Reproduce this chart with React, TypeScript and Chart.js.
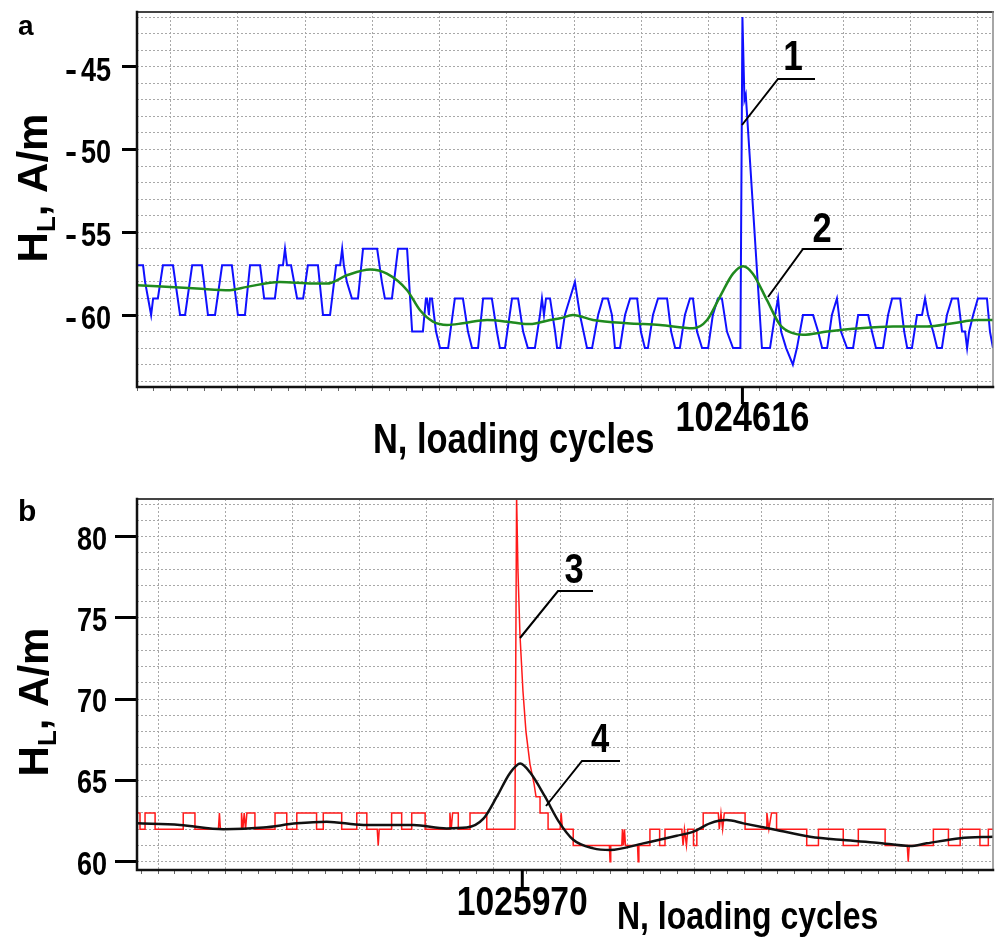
import React, { useEffect, useRef } from "react";
import { Chart, registerables } from "chart.js";

Chart.register(...registerables);

const W = 995;
const H = 472;

// ---------------- Panel a ----------------
const N_MIN_A = 1024436;
const N_MAX_A = 1024690.5;
const N_MARK_A = 1024616;
const GRID_START_A = 1024446;
const H_MIN_A = -64.35;
const H_MAX_A = -41.69;
const H_TICKS_A = [-45, -50, -55, -60];

// curve 1 (raw signal): cycle offset from N_MIN_A, field value
const blueA_dN = [0, 1.8, 2.4, 3.3, 4.2, 4.8, 6.2, 7.7, 10.7, 12.8, 14.3, 16.4, 19.3, 21.1, 23.2, 25.3, 28.2, 30.0, 32.1, 33.6, 36.6, 37.8, 41.0, 42.2, 43.4, 44.0, 44.6, 45.8, 47.6, 49.4, 50.8, 53.8, 55.3, 57.4, 59.2, 60.4, 61.0, 61.5, 62.4, 63.9, 65.7, 67.2, 71.4, 72.8, 73.7, 75.8, 77.6, 80.3, 80.9, 81.8, 85.0, 85.9, 86.2, 86.8, 87.1, 87.7, 88.9, 90.1, 92.5, 94.5, 96.9, 98.4, 99.6, 101.4, 102.9, 105.5, 107.0, 107.9, 109.4, 111.5, 113.3, 114.8, 116.2, 118.3, 119.8, 120.4, 121.0, 121.6, 122.8, 124.3, 124.9, 125.8, 127.2, 128.7, 130.2, 131.7, 133.8, 135.3, 137.1, 138.5, 140.0, 141.2, 142.1, 143.6, 145.1, 146.6, 148.7, 149.8, 151.0, 151.9, 153.4, 154.9, 157.6, 158.8, 160.0, 161.4, 162.9, 164.4, 165.3, 166.5, 168.0, 169.8, 171.2, 172.7, 173.9, 175.4, 177.2, 179.4, 180.0, 180.6, 181.0, 185.8, 188.2, 189.7, 190.6, 191.5, 193.0, 195.0, 196.2, 198.0, 201.0, 202.5, 203.7, 205.2, 206.6, 208.1, 209.3, 211.1, 212.9, 214.4, 217.4, 218.5, 219.7, 221.8, 223.3, 224.5, 226.9, 228.1, 229.0, 230.4, 231.9, 233.4, 234.3, 235.2, 236.7, 237.9, 239.3, 240.8, 242.3, 244.1, 245.3, 246.2, 246.8, 247.4, 248.6, 250.0, 252.7, 253.6, 254.5];
const blueA_H = [-57, -57, -58, -59, -60, -59, -59, -57, -57, -60, -60, -57, -57, -60, -60, -57, -57, -60, -60, -57, -57, -59, -59, -57, -57, -56, -57, -57, -59, -59, -57, -57, -60, -60, -57, -57, -56, -57, -58, -59, -59, -56, -56, -58, -59, -59, -56, -56, -58, -61, -61, -59, -59, -60, -59, -59, -61, -62, -62, -59, -59, -61, -62, -62, -59, -59, -61, -62, -62, -59, -59, -61, -62, -62, -60, -59, -60, -59, -59, -61, -62, -62, -60, -59, -58, -60, -62, -62, -60, -59, -59, -60, -62, -62, -60, -59, -59, -61, -62, -62, -60, -59, -59, -61, -62, -62, -60, -59, -59, -61, -62, -62, -60, -59, -59, -61, -62, -62, -42, -47, -46.7, -62, -62, -60, -59, -61, -62, -63, -62, -60, -60, -61, -62, -62, -60, -59, -61, -62, -62, -60, -60, -61, -62, -62, -60, -59, -59, -61, -62, -62, -60, -60, -59, -60, -61, -62, -62, -60, -59, -59, -61, -61, -62, -61, -60, -59, -59, -61, -62];

// curve 2 (smoothed)
const greenA_dN = [0, 17.8, 27.6, 32.7, 42.5, 52.3, 56.5, 62.4, 69.3, 74.3, 80.3, 84.1, 88.0, 92.2, 96.9, 104.1, 111.8, 116.8, 122.8, 125.8, 129.6, 135.6, 145.7, 155.5, 165.3, 169.5, 173.3, 177.2, 180.2, 183.1, 187.3, 191.2, 195.0, 198.0, 205.2, 215.0, 224.8, 234.9, 242.6, 249.7, 254.5];
const greenA_H = [-58.2, -58.4, -58.5, -58.3, -58.0, -58.1, -58.1, -57.6, -57.25, -57.5, -58.5, -59.7, -60.4, -60.6, -60.5, -60.3, -60.45, -60.55, -60.3, -60.2, -60.0, -60.3, -60.5, -60.6, -60.8, -60.3, -58.9, -57.5, -57.05, -57.5, -59.1, -60.6, -61.1, -61.2, -61.0, -60.8, -60.7, -60.7, -60.5, -60.3, -60.3];

// ---------------- Panel b ----------------
const N_MIN_B = 1025855;
const N_MAX_B = 1026110.5;
const N_MARK_B = 1025970;
const GRID_START_B = 1025861.3;
const H_MIN_B = 59.49;
const H_MAX_B = 82.32;
const H_TICKS_B = [80, 75, 70, 65, 60];

// curve 3 (raw signal)
const redB_dN = [0, 0.9, 0.9, 2.4, 2.4, 5.4, 5.4, 13.8, 13.8, 17.3, 17.3, 24.3, 24.6, 24.9, 31.2, 31.2, 31.6, 32.0, 32.4, 32.8, 35.2, 35.2, 41.2, 41.2, 44.7, 44.7, 47.7, 47.7, 53.6, 53.6, 55.6, 55.6, 61.1, 61.1, 65.6, 65.6, 68.6, 68.6, 71.7, 72.0, 72.3, 76.0, 76.0, 79.0, 79.0, 82.0, 82.0, 86.0, 86.0, 93.4, 93.4, 93.8, 94.2, 95.9, 95.9, 99.4, 99.4, 104.4, 104.4, 112.8, 113.3, 113.7, 114.3, 115.2, 116.1, 117.3, 118.5, 119.1, 120.3, 120.3, 122.7, 122.7, 126.3, 126.6, 127.0, 130.2, 130.2, 141.0, 141.2, 141.4, 144.7, 144.9, 145.2, 145.5, 145.8, 149.4, 149.6, 149.8, 153.1, 153.1, 156.0, 156.0, 157.6, 157.6, 162.6, 163.0, 163.4, 164.0, 164.4, 166.1, 166.1, 167.1, 167.1, 169.0, 169.0, 173.5, 173.8, 174.3, 174.8, 175.3, 181.5, 181.5, 188.0, 188.0, 188.6, 189.4, 190.9, 190.9, 199.9, 199.9, 203.4, 203.4, 210.8, 210.8, 215.3, 215.3, 223.3, 223.3, 229.9, 230.2, 230.5, 237.7, 237.7, 242.2, 242.2, 245.7, 245.7, 251.6, 251.6, 254.1, 254.1, 255.5];
const redB_H = [63, 63, 62, 62, 63, 63, 62, 62, 63, 63, 62, 62, 63, 62, 62, 63, 62, 63, 62, 63, 63, 62, 62, 63, 63, 62, 62, 63, 63, 62, 62, 63, 63, 62, 62, 63, 63, 62, 62, 61, 62, 62, 63, 63, 62, 62, 63, 63, 62, 62, 63, 62, 63, 63, 62, 62, 63, 63, 62, 62, 82.5, 78, 74, 70.5, 68, 66, 64.8, 64, 64, 63, 63, 62, 62, 63, 62, 62, 61, 61, 60, 61, 61, 62, 61, 62, 61, 61, 60, 61, 61, 62, 62, 61, 61, 62, 62, 61, 62, 61, 62, 62, 61, 61, 62, 62, 63, 63, 62, 63, 62, 63, 63, 62, 62, 63, 62, 63, 63, 62, 62, 61, 61, 62, 62, 61, 61, 62, 62, 61, 61, 60, 61, 61, 62, 62, 61, 61, 62, 62, 61, 61, 62, 62];

// curve 4 (smoothed)
const blackB_dN = [0, 12.8, 25.8, 37.7, 47.7, 56.6, 67.6, 82.5, 92.4, 98.4, 103.4, 107.4, 111.3, 114.4, 117.3, 121.8, 125.8, 130.2, 136.2, 141.2, 151.1, 161.1, 166.1, 171.0, 176.0, 181.0, 190.9, 200.9, 210.8, 220.8, 230.7, 235.7, 245.7, 255.5];
const blackB_H = [62.36, 62.26, 62.0, 62.1, 62.36, 62.46, 62.26, 62.26, 62.05, 62.1, 62.65, 64.0, 65.45, 66.05, 65.5, 64.0, 62.5, 61.35, 60.82, 60.72, 61.13, 61.6, 61.85, 62.36, 62.56, 62.36, 61.95, 61.54, 61.33, 61.17, 60.97, 61.13, 61.44, 61.54];

const X_TITLE = "N, loading cycles";
const CURVE_LABELS = ["1", "2", "3", "4"];

const FONT = '"Liberation Sans", Arial, Helvetica, sans-serif';
const NARROW = 0.82;

function drawText(ctx: CanvasRenderingContext2D, text: string, x: number, y: number, size: number, align: CanvasTextAlign, sx = NARROW) {
  ctx.save();
  ctx.translate(x, y);
  ctx.scale(sx, 1);
  ctx.font = `bold ${size}px ${FONT}`;
  ctx.textAlign = align;
  ctx.textBaseline = "alphabetic";
  ctx.fillStyle = "#000";
  ctx.fillText(text, 0, 0);
  ctx.restore();
}

type Ann = {
  offsetY: number;
  letter: { text: string; x: number; y: number; size: number };
  yTitle: { x: number; y: number; size: number };
  yLabel: { right: number; minusX: number; size: number; dy: number; values: number[] };
  mark: { value: number; len: number; y: number; size: number };
  xTitle: { x: number; y: number; size: number };
  curves: { text: string; x: number; y: number; size: number; path: number[][] }[];
};

function makePlugin(a: Ann) {
  return {
    id: "annotate",
    afterDatasetsDraw(chart: any) {
      const ctx: CanvasRenderingContext2D = chart.ctx;
      const { left, right, top, bottom } = chart.chartArea;
      ctx.save();
      ctx.lineCap = "square";
      ctx.strokeStyle = "#444";
      ctx.lineWidth = 2;
      ctx.beginPath();
      ctx.moveTo(left, top);
      ctx.lineTo(right, top);
      ctx.stroke();
      ctx.strokeStyle = "#888";
      ctx.lineWidth = 1.5;
      ctx.beginPath();
      ctx.moveTo(right, top);
      ctx.lineTo(right, bottom);
      ctx.stroke();
      ctx.strokeStyle = "#111";
      ctx.lineWidth = 2.5;
      ctx.beginPath();
      ctx.moveTo(left, top);
      ctx.lineTo(left, bottom);
      ctx.lineTo(right, bottom);
      ctx.stroke();
      ctx.restore();
    },
    afterDraw(chart: any) {
      const ctx: CanvasRenderingContext2D = chart.ctx;
      const oy = a.offsetY;
      const xs = chart.scales.x;
      const ys = chart.scales.y;
      const { bottom } = chart.chartArea;
      // panel letter
      drawText(ctx, a.letter.text, a.letter.x, a.letter.y - oy, a.letter.size, "left", 1);
      // y tick labels (minus sign drawn just before the digits)
      a.yLabel.values.forEach((v) => {
        const py = ys.getPixelForValue(v) + a.yLabel.size * 0.36 + a.yLabel.dy;
        drawText(ctx, String(Math.abs(v)), a.yLabel.right, py, a.yLabel.size, "right");
        if (v < 0) drawText(ctx, "-", a.yLabel.minusX, py, a.yLabel.size, "left", 1.1);
      });
      // marked x tick
      const mx = xs.getPixelForValue(a.mark.value);
      ctx.save();
      ctx.strokeStyle = "#000";
      ctx.lineWidth = 3;
      ctx.beginPath();
      ctx.moveTo(mx, bottom);
      ctx.lineTo(mx, bottom + a.mark.len);
      ctx.stroke();
      ctx.restore();
      drawText(ctx, String(a.mark.value), mx, a.mark.y - oy, a.mark.size, "center");
      // x title
      drawText(ctx, X_TITLE, a.xTitle.x, a.xTitle.y - oy, a.xTitle.size, "left");
      // y title with subscript
      const s = a.yTitle.size;
      ctx.save();
      ctx.translate(a.yTitle.x, a.yTitle.y - oy);
      ctx.rotate(-Math.PI / 2);
      ctx.fillStyle = "#000";
      ctx.textBaseline = "alphabetic";
      ctx.textAlign = "left";
      ctx.font = `bold ${s}px ${FONT}`;
      const wH = ctx.measureText("H").width;
      const wRest = ctx.measureText(", A/m").width;
      ctx.font = `bold ${Math.round(s * 0.62)}px ${FONT}`;
      const wL = ctx.measureText("L").width;
      const total = wH + wL + wRest;
      let x0 = -total / 2;
      ctx.font = `bold ${s}px ${FONT}`;
      ctx.fillText("H", x0, 0);
      x0 += wH;
      ctx.font = `bold ${Math.round(s * 0.62)}px ${FONT}`;
      ctx.fillText("L", x0, s * 0.2);
      x0 += wL;
      ctx.font = `bold ${s}px ${FONT}`;
      ctx.fillText(", A/m", x0, 0);
      ctx.restore();
      // curve labels with leader lines
      a.curves.forEach((c) => {
        ctx.save();
        ctx.strokeStyle = "#000";
        ctx.lineWidth = 2;
        ctx.beginPath();
        c.path.forEach((p, i) => {
          if (i === 0) ctx.moveTo(p[0], p[1] - oy);
          else ctx.lineTo(p[0], p[1] - oy);
        });
        ctx.stroke();
        ctx.restore();
        drawText(ctx, c.text, c.x, c.y - oy, c.size, "center");
      });
    },
  };
}

type Series = { dN: number[]; h: number[]; color: string; width: number; smooth: boolean };

type Panel = {
  nMin: number;
  nMax: number;
  gridStart: number;
  hMin: number;
  hMax: number;
  hTicks: number[];
  padTop: number;
  xHeight: number;
  yTickLen: number;
  series: Series[];
  ann: Ann;
};

function buildConfig(p: Panel): any {
  const isMajor = (v: number) => {
    const r = (v - p.gridStart) / 20;
    return Math.abs(r - Math.round(r)) < 1e-4;
  };
  return {
    type: "line",
    data: {
      datasets: p.series.map((s) => ({
        data: s.dN.map((d, i) => ({ x: p.nMin + d, y: s.h[i] })),
        borderColor: s.color,
        borderWidth: s.width,
        pointRadius: 0,
        fill: false,
        tension: s.smooth ? 0.4 : 0,
        cubicInterpolationMode: s.smooth ? "monotone" : "default",
      })),
    },
    options: {
      responsive: false,
      maintainAspectRatio: false,
      animation: false,
      devicePixelRatio: 1,
      layout: { padding: { top: p.padTop, right: 2, left: 0, bottom: 0 } },
      plugins: { legend: { display: false }, tooltip: { enabled: false } },
      scales: {
        x: {
          type: "linear",
          min: p.nMin,
          max: p.nMax,
          afterBuildTicks: (scale: any) => {
            const ticks: any[] = [];
            let v = p.gridStart - Math.floor((p.gridStart - p.nMin) / 5) * 5;
            for (; v <= p.nMax + 1e-9; v += 5) ticks.push({ value: Math.round(v * 1000) / 1000 });
            scale.ticks = ticks;
          },
          afterFit: (scale: any) => {
            scale.height = p.xHeight;
          },
          ticks: { display: false },
          border: { display: false, dash: [2, 2] },
          grid: {
            color: (c: any) => (c.tick && isMajor(c.tick.value) ? "#a8a8a8" : "rgba(0,0,0,0)"),
            lineWidth: 1,
            drawTicks: true,
            tickLength: 4,
            tickWidth: 1,
            tickColor: "#666",
          },
        },
        y: {
          type: "linear",
          min: p.hMin,
          max: p.hMax,
          afterBuildTicks: (scale: any) => {
            const ticks: any[] = [];
            for (let v = Math.ceil(p.hMin); v <= Math.floor(p.hMax); v++) ticks.push({ value: v });
            scale.ticks = ticks;
          },
          afterFit: (scale: any) => {
            scale.width = 137;
          },
          ticks: { display: false },
          border: { display: false, dash: [2, 2] },
          grid: {
            color: "#a8a8a8",
            lineWidth: 1,
            drawTicks: true,
            tickLength: p.yTickLen,
            tickWidth: 3,
            tickColor: (c: any) => (c.tick && p.hTicks.includes(c.tick.value) ? "#000" : "rgba(0,0,0,0)"),
          },
        },
      },
    },
    plugins: [makePlugin(p.ann)],
  };
}

const panelA: Panel = {
  nMin: N_MIN_A,
  nMax: N_MAX_A,
  gridStart: GRID_START_A,
  hMin: H_MIN_A,
  hMax: H_MAX_A,
  hTicks: H_TICKS_A,
  padTop: 12,
  xHeight: H - 387,
  yTickLen: 15,
  series: [
    { dN: greenA_dN, h: greenA_H, color: "#1f8a1f", width: 2.5, smooth: true },
    { dN: blueA_dN, h: blueA_H, color: "#1010ff", width: 2, smooth: false },
  ],
  ann: {
    offsetY: 0,
    letter: { text: "a", x: 18, y: 35, size: 28 },
    yTitle: { x: 47, y: 188, size: 42 },
    yLabel: { right: 111, minusX: 65, size: 33, dy: 2, values: H_TICKS_A },
    mark: { value: N_MARK_A, len: 17, y: 431, size: 42 },
    xTitle: { x: 373, y: 453, size: 42 },
    curves: [
      { text: CURVE_LABELS[0], x: 793, y: 70, size: 43, path: [[742, 125], [778, 79], [815, 79]] },
      { text: CURVE_LABELS[1], x: 822, y: 242, size: 42, path: [[768, 297], [803, 249], [842, 249]] },
    ],
  },
};

const panelB: Panel = {
  nMin: N_MIN_B,
  nMax: N_MAX_B,
  gridStart: GRID_START_B,
  hMin: H_MIN_B,
  hMax: H_MAX_B,
  hTicks: H_TICKS_B,
  padTop: 499 - 472,
  xHeight: H - (870 - 472),
  yTickLen: 22,
  series: [
    { dN: blackB_dN, h: blackB_H, color: "#111111", width: 2.5, smooth: true },
    { dN: redB_dN, h: redB_H, color: "#ff1a1a", width: 1.5, smooth: false },
  ],
  ann: {
    offsetY: 472,
    letter: { text: "b", x: 18, y: 521, size: 30 },
    yTitle: { x: 48, y: 702, size: 42 },
    yLabel: { right: 107, minusX: 60, size: 33, dy: 1, values: H_TICKS_B },
    mark: { value: N_MARK_B, len: 19, y: 915, size: 41 },
    xTitle: { x: 617, y: 929, size: 39 },
    curves: [
      { text: CURVE_LABELS[2], x: 574, y: 583, size: 42, path: [[520, 638], [558, 591], [593, 591]] },
      { text: CURVE_LABELS[3], x: 600, y: 752, size: 40, path: [[546, 806], [582, 761], [620, 761]] },
    ],
  },
};

function PanelChart({ panel, top }: { panel: Panel; top: number }) {
  const ref = useRef<HTMLCanvasElement | null>(null);
  useEffect(() => {
    if (!ref.current) return;
    const chart = new Chart(ref.current, buildConfig(panel));
    return () => chart.destroy();
  }, [panel]);
  return (
    <canvas
      ref={ref}
      width={W}
      height={H}
      style={{ position: "absolute", left: 0, top, width: W, height: H, display: "block" }}
    />
  );
}

export default function App() {
  return (
    <div style={{ position: "absolute", left: 0, top: 0, width: W, height: 944, background: "#fff" }}>
      <PanelChart panel={panelA} top={0} />
      <PanelChart panel={panelB} top={472} />
    </div>
  );
}
